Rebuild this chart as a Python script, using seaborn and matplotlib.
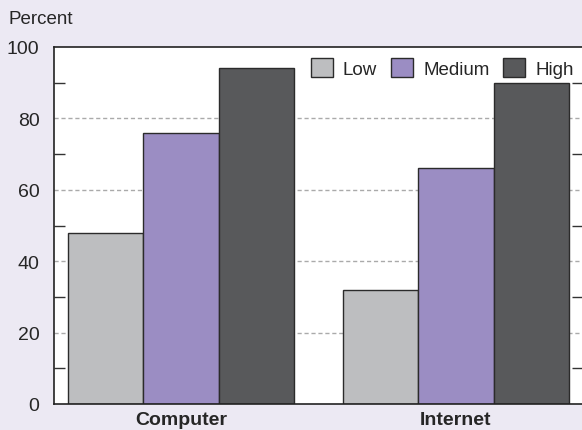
import pandas as pd
import matplotlib
matplotlib.use('Agg')
import matplotlib.pyplot as plt
import seaborn as sns

# --- Data ---
categories = ['Computer', 'Internet']
levels = ['Low', 'Medium', 'High']
low_values = [48, 32]
medium_values = [76, 66]
high_values = [94, 90]
y_ticks = [0, 20, 40, 60, 80, 100]

PALETTE = {'Low': '#BDBEC0', 'Medium': '#9B8DC3', 'High': '#58595B'}
BG = '#ECE9F3'

df = pd.DataFrame({
    'category': categories * 3,
    'level': ['Low'] * 2 + ['Medium'] * 2 + ['High'] * 2,
    'value': low_values + medium_values + high_values,
})

sns.set_style('white')
plt.rcParams['font.family'] = ['Liberation Sans', 'DejaVu Sans']

fig = plt.figure(figsize=(5.82, 4.31), dpi=100, facecolor=BG)
ax = fig.add_axes([54 / 582, 26 / 431, 529 / 582, 357 / 431])
ax.set_facecolor('white')

sns.barplot(data=df, x='category', y='value', hue='level', hue_order=levels,
            order=categories, palette=PALETTE, width=0.825, gap=0,
            edgecolor='#2b2b2b', linewidth=1, saturation=1, ax=ax)

ax.set_xlim(-0.462, 1.462)
ax.set_ylim(0, 100)
ax.set_yticks(y_ticks)
ax.set_yticklabels([str(t) for t in y_ticks], fontsize=14)
ax.set_yticks([10, 30, 50, 70, 90], minor=True)
ax.tick_params(axis='y', which='major', length=0, pad=10.5)
ax.tick_params(axis='y', which='minor', direction='in', length=8, width=1,
               color='#333333', left=True, right=True)
ax.tick_params(axis='x', length=0, pad=5)
for lbl in ax.get_xticklabels():
    lbl.set_fontweight('bold')
    lbl.set_fontsize(14)

for y in [20, 40, 60, 80]:
    ax.axhline(y, color='#AAAAAA', linestyle=(0, (3, 2)), linewidth=1, zorder=0)

for side in ['left', 'bottom', 'top']:
    ax.spines[side].set_color('#222222')
    ax.spines[side].set_linewidth(1.2)
ax.spines['right'].set_visible(False)

ax.set_xlabel('')
ax.set_ylabel('')

leg = ax.legend(loc='upper right', ncol=3, frameon=False, fontsize=13.5,
                handlelength=1.15, handleheight=1.15, handletextpad=0.55,
                columnspacing=0.75, borderaxespad=0.2, bbox_to_anchor=(1.004, 1.0))

fig.text(8 / 582, 1 - 20 / 431, 'Percent', fontsize=13.5, va='center', ha='left')

fig.savefig('out.png', dpi=100, facecolor=BG)
